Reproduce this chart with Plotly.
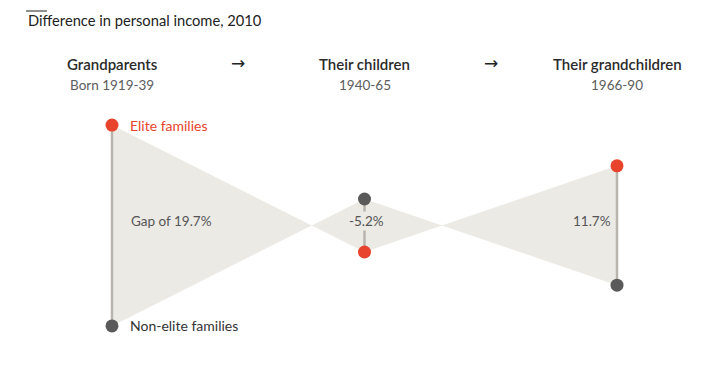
import plotly.graph_objects as go

# ---- data ----
generations = ["Grandparents", "Their children", "Their grandchildren"]
born = ["Born 1919-39", "1940-65", "1966-90"]
gaps = [19.7, -5.2, 11.7]          # elite minus non-elite income gap, %
gap_labels = ["Gap of 19.7%", "-5.2%", "11.7%"]
title = "Difference in personal income, 2010"

RED = "#e8432d"
GREY = "#5a5a5a"
FILL = "#ebeae5"
LINE = "#b9b5ae"
FONT = "Lato"

# page offset (browser body margin)
OFF = 8
W = 728 - OFF
H = 365 - OFF

xs = list(range(len(gaps)))
elite = [g / 2 for g in gaps]
nonelite = [-g / 2 for g in gaps]

PXU = 10.2
YC = 225.5 - OFF
def py(p):
    return (YC - (p - OFF)) / PXU

fig = go.Figure()

fig.add_trace(go.Scatter(
    x=xs + xs[::-1], y=elite + nonelite[::-1],
    fill="toself", fillcolor=FILL, line=dict(width=0), mode="lines",
    hoverinfo="skip", showlegend=False))

for x, e, n in zip(xs, elite, nonelite):
    fig.add_trace(go.Scatter(x=[x, x], y=[e, n], mode="lines",
                             line=dict(color=LINE, width=2.5),
                             hoverinfo="skip", showlegend=False))

fig.add_trace(go.Scatter(x=xs, y=nonelite, mode="markers",
                         marker=dict(color=GREY, size=13), showlegend=False))
fig.add_trace(go.Scatter(x=xs, y=elite, mode="markers",
                         marker=dict(color=RED, size=13), showlegend=False))

ann = []
for x, g, b in zip(xs, generations, born):
    ann.append(dict(x=x, y=py(64), xref="x", yref="y", text=g, showarrow=False,
                    font=dict(family=FONT, size=15, color="#2a2a2a", weight=600)))
    ann.append(dict(x=x, y=py(85), xref="x", yref="y", text=b, showarrow=False,
                    font=dict(family=FONT, size=13.5, color="#5c5c5c")))
for x in [0.5, 1.5]:
    ann.append(dict(x=x, y=py(63), xref="x", yref="y", text="→", showarrow=False,
                    font=dict(family="DejaVu Sans", size=17, color="#222222")))

ann.append(dict(x=0, y=elite[0], xref="x", yref="y", text="Elite families",
                xanchor="left", xshift=16, showarrow=False,
                font=dict(family=FONT, size=14, color=RED)))
ann.append(dict(x=0, y=nonelite[0], xref="x", yref="y", text="Non-elite families",
                xanchor="left", xshift=16, showarrow=False,
                font=dict(family=FONT, size=14, color="#333333")))
ann.append(dict(x=0, y=py(221), xref="x", yref="y", text=gap_labels[0],
                xanchor="left", xshift=17, showarrow=False,
                font=dict(family=FONT, size=13.5, color="#555555")))
ann.append(dict(x=1, y=py(221), xref="x", yref="y", text=gap_labels[1],
                xanchor="center", xshift=2, showarrow=False, bgcolor=FILL,
                font=dict(family=FONT, size=13.5, color="#555555")))
ann.append(dict(x=2, y=py(221), xref="x", yref="y", text=gap_labels[2],
                xanchor="right", xshift=-4, showarrow=False,
                font=dict(family=FONT, size=13.5, color="#555555")))

ann.append(dict(x=(26 - OFF) / W, y=1 - (20 - OFF) / H, xref="paper", yref="paper",
                text=title, showarrow=False, xanchor="left", yanchor="middle",
                font=dict(family=FONT, size=14.7, color="#222222")))

PX0 = 112 - OFF
PXS = 252.5
xr = [-PX0 / PXS, (W - PX0) / PXS]
yr = [py(365), py(OFF)]

fig.update_layout(
    width=W, height=H, margin=dict(l=0, r=0, t=0, b=0),
    plot_bgcolor="white", paper_bgcolor="white",
    xaxis=dict(range=xr, visible=False, fixedrange=True),
    yaxis=dict(range=yr, visible=False, fixedrange=True),
    annotations=ann,
    shapes=[dict(type="line", xref="paper", yref="paper",
                 x0=(26 - OFF) / W, x1=(47 - OFF) / W,
                 y0=1 - (11 - OFF) / H, y1=1 - (11 - OFF) / H,
                 line=dict(color="#222222", width=1))],
)

fig.write_html("out.html")
